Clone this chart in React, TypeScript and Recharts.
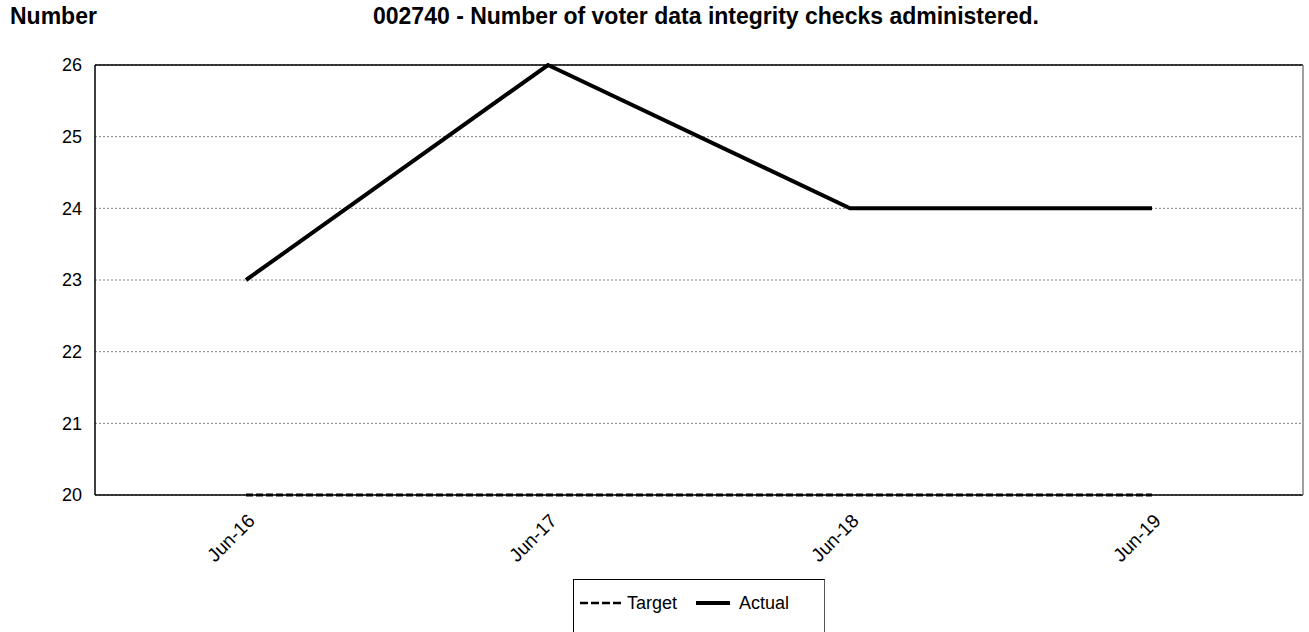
import { LineChart, Line, XAxis, YAxis, CartesianGrid, Legend, ReferenceLine } from 'recharts';

const months = ['Jun-16', 'Jun-17', 'Jun-18', 'Jun-19'];
const target = [20, 20, 20, 20];
const actual = [23, 26, 24, 24];
const yTicks = [20, 21, 22, 23, 24, 25, 26];

const FONT = '"Liberation Sans", Arial, sans-serif';

const data = months.map((m, i) => ({ month: m, target: target[i], actual: actual[i] }));

function AngledTick({ x, y, payload }: any) {
  return (
    <text
      x={x + 10}
      y={y + 19}
      transform={`rotate(-45, ${x + 10}, ${y + 19})`}
      textAnchor='end'
      fontSize={19}
      fontFamily={FONT}
      fill='#000'
    >
      {payload.value}
    </text>
  );
}

function LegendBox() {
  return (
    <div
      style={{
        boxSizing: 'border-box',
        width: 252,
        height: 53,
        borderTop: '1px solid #000',
        borderLeft: '1px solid #000',
        borderRight: '1px solid #555',
        fontFamily: FONT,
        fontSize: 18,
        color: '#000',
        display: 'flex',
        alignItems: 'flex-start',
        paddingTop: 12,
        paddingLeft: 6,
      }}
    >
      <svg width={44} height={22} style={{ marginRight: 3 }}>
        <line x1={0} y1={11} x2={44} y2={11} stroke='#000' strokeWidth={2.5} strokeDasharray='8 3' />
      </svg>
      <span style={{ lineHeight: '22px' }}>Target</span>
      <svg width={34} height={22} style={{ marginLeft: 19, marginRight: 9 }}>
        <line x1={0} y1={11} x2={34} y2={11} stroke='#000' strokeWidth={4} />
      </svg>
      <span style={{ lineHeight: '22px' }}>Actual</span>
    </div>
  );
}

export default function App() {
  return (
    <div style={{ position: 'absolute', left: 0, top: 0, width: 1309, height: 632, background: '#fff' }}>
      <div style={{ position: 'absolute', left: 10, top: 5, fontFamily: FONT, fontWeight: 'bold', fontSize: 23, lineHeight: 1 }}>
        Number
      </div>
      <div style={{ position: 'absolute', left: 373, top: 5, fontFamily: FONT, fontWeight: 'bold', fontSize: 23, lineHeight: 1, whiteSpace: 'nowrap' }}>
        002740 - Number of voter data integrity checks administered.
      </div>
      <LineChart width={1309} height={632} data={data} margin={{ top: 65, right: 0, left: 0, bottom: 0 }}>
        <CartesianGrid yAxisId='left' vertical={false} stroke='#808080' strokeDasharray='2 2' />
        <XAxis
          dataKey='month'
          padding={{ left: 151, right: 151 }}
          axisLine={{ stroke: '#000', strokeWidth: 1.5 }}
          tickLine={false}
          tick={<AngledTick />}
          height={84}
          interval={0}
        />
        <YAxis
          yAxisId='left'
          domain={[20, 26]}
          ticks={yTicks}
          width={95}
          axisLine={{ stroke: '#000', strokeWidth: 1.5 }}
          tickLine={false}
          tickSize={0}
          tickMargin={13}
          tick={{ fontSize: 18, fontFamily: FONT, fill: '#000' }}
        />
        <YAxis
          yAxisId='right'
          orientation='right'
          domain={[20, 26]}
          width={6}
          tick={false}
          tickLine={false}
          axisLine={{ stroke: '#808080', strokeWidth: 1.5 }}
        />
        <ReferenceLine yAxisId='left' y={26} stroke='#000' strokeWidth={1.5} />
        <Line
          yAxisId='left'
          dataKey='target'
          name='Target'
          stroke='#000'
          strokeWidth={3}
          strokeDasharray='7 3'
          dot={false}
          isAnimationActive={false}
        />
        <Line
          yAxisId='left'
          dataKey='actual'
          name='Actual'
          stroke='#000'
          strokeWidth={4}
          dot={false}
          isAnimationActive={false}
        />
        <Legend
          verticalAlign='bottom'
          content={<LegendBox />}
          wrapperStyle={{ left: 573, width: 252, height: 53 }}
        />
      </LineChart>
    </div>
  );
}
